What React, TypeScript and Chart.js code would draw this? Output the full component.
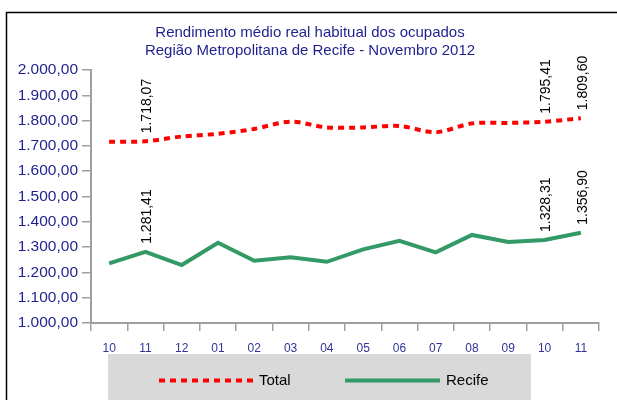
import React, { useEffect, useRef } from "react";
import { Chart, registerables } from "chart.js";

Chart.register(...registerables);

const titleLines = [
  "Rendimento médio real habitual dos ocupados",
  "Região Metropolitana de Recife - Novembro 2012",
];
const categories = ["10", "11", "12", "01", "02", "03", "04", "05", "06", "07", "08", "09", "10", "11"];
const totalValues = [1716, 1718.07, 1737, 1748, 1767, 1796, 1773, 1773, 1779, 1754, 1789, 1791, 1795.41, 1809.6];
const recifeValues = [1236, 1281.41, 1229, 1317, 1246, 1260, 1242, 1291, 1325, 1279, 1348, 1320, 1328.31, 1356.9];
const labelledIndices = [1, 12, 13];
const seriesNames = ["Total", "Recife"];

function fmt(v: number): string {
  const fixed = v.toFixed(2);
  const [intPart, dec] = fixed.split(".");
  const withDots = intPart.replace(/\B(?=(\d{3})+(?!\d))/g, ".");
  return withDots + "," + dec;
}

const FONT = "'Liberation Sans', Arial, sans-serif";

const framePlugin = {
  id: "frame",
  beforeDraw(chart: any) {
    const ctx = chart.ctx;
    ctx.save();
    ctx.fillStyle = "#ffffff";
    ctx.fillRect(0, 0, chart.width, chart.height);
    ctx.strokeStyle = "#000000";
    ctx.lineWidth = 1.5;
    ctx.strokeRect(6.5, 12.5, chart.width + 20, chart.height + 20);
    // title
    ctx.fillStyle = "#1f1f8f";
    ctx.font = `15px ${FONT}`;
    ctx.textAlign = "center";
    ctx.textBaseline = "middle";
    ctx.fillText(titleLines[0], 310, 33);
    ctx.fillText(titleLines[1], 310, 51);
    // legend box
    ctx.fillStyle = "#d9d9d9";
    ctx.fillRect(108, 354, 423, 60);
    const ds = chart.data.datasets;
    const items = [
      { x0: 159, x1: 253, tx: 259 },
      { x0: 345, x1: 440, tx: 446 },
    ];
    items.forEach((it, i) => {
      const d = ds[i];
      ctx.strokeStyle = d.borderColor;
      ctx.lineWidth = 4;
      ctx.setLineDash(d.borderDash || []);
      ctx.beginPath();
      ctx.moveTo(it.x0, 380.5);
      ctx.lineTo(it.x1, 380.5);
      ctx.stroke();
      ctx.setLineDash([]);
      ctx.fillStyle = "#000000";
      ctx.font = `15px ${FONT}`;
      ctx.textAlign = "left";
      ctx.textBaseline = "middle";
      ctx.fillText(d.label, it.tx, 381);
    });
    ctx.restore();
  },
  afterDatasetsDraw(chart: any) {
    const ctx = chart.ctx;
    ctx.save();
    ctx.fillStyle = "#000000";
    ctx.font = `14px ${FONT}`;
    ctx.textAlign = "left";
    ctx.textBaseline = "middle";
    chart.data.datasets.forEach((d: any, di: number) => {
      const meta = chart.getDatasetMeta(di);
      labelledIndices.forEach((idx) => {
        const pt = meta.data[idx];
        if (!pt) return;
        ctx.save();
        ctx.translate(pt.x + 2, pt.y - 8);
        ctx.rotate(-Math.PI / 2);
        ctx.fillText(fmt(d.data[idx]), 0, 0);
        ctx.restore();
      });
    });
    ctx.restore();
  },
};

export default function App() {
  const ref = useRef<HTMLCanvasElement | null>(null);
  useEffect(() => {
    if (!ref.current) return;
    const chart = new Chart(ref.current, {
      type: "line",
      data: {
        labels: categories,
        datasets: [
          {
            label: seriesNames[0],
            data: totalValues,
            borderColor: "#ff0000",
            borderWidth: 4,
            borderDash: [6, 5],
            pointRadius: 0,
            tension: 0.3,
            fill: false,
          },
          {
            label: seriesNames[1],
            data: recifeValues,
            borderColor: "#339966",
            borderWidth: 4,
            pointRadius: 0,
            tension: 0,
            fill: false,
          },
        ],
      },
      options: {
        animation: false,
        responsive: false,
        events: [],
        layout: { padding: { left: 0, top: 70, right: 18, bottom: 0 } },
        plugins: {
          legend: { display: false },
          title: { display: false },
          tooltip: { enabled: false },
        },
        scales: {
          x: {
            type: "category",
            offset: true,
            grid: {
              offset: true,
              drawOnChartArea: false,
              drawTicks: true,
              tickLength: 8,
              color: "#a0a0a0",
              lineWidth: 1.5,
            },
            border: { color: "#a0a0a0", width: 2 },
            ticks: {
              color: "#333399",
              font: { family: FONT, size: 12 },
              padding: 10,
              maxRotation: 0,
              autoSkip: false,
            },
            afterFit(scale: any) {
              scale.height = 77;
            },
          },
          y: {
            min: 1000,
            max: 2000,
            grid: {
              drawOnChartArea: false,
              drawTicks: true,
              tickLength: 9,
              color: "#a0a0a0",
              lineWidth: 1.5,
            },
            border: { color: "#a0a0a0", width: 2 },
            ticks: {
              stepSize: 100,
              color: "#1f1f8f",
              font: { family: FONT, size: 15.5 },
              padding: 4,
              callback: (v: any) => fmt(Number(v)),
            },
            afterFit(scale: any) {
              scale.width = 91;
            },
          },
        },
      },
      plugins: [framePlugin],
    });
    return () => chart.destroy();
  }, []);
  return (
    <div style={{ position: "absolute", left: 0, top: 0, width: 617, height: 400 }}>
      <canvas ref={ref} width={617} height={400} style={{ display: "block" }} />
    </div>
  );
}
